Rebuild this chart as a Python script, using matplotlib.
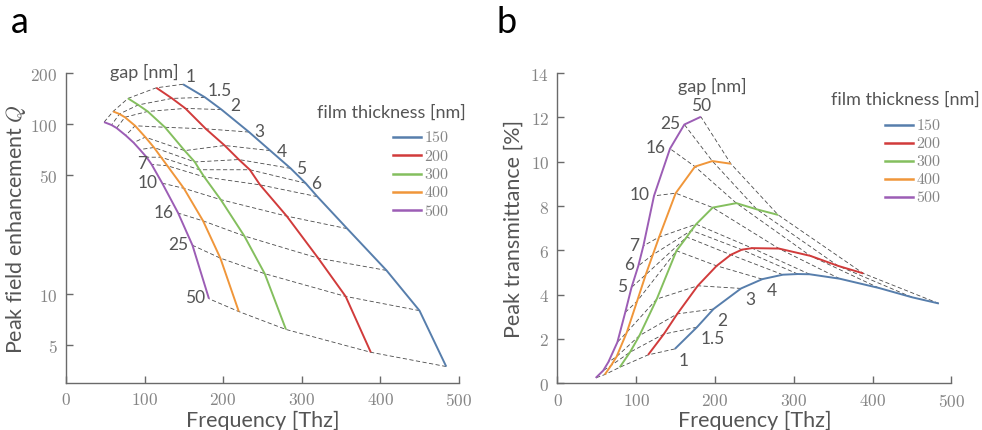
import matplotlib
matplotlib.use('Agg')
import matplotlib.pyplot as plt
from matplotlib.ticker import FuncFormatter, NullLocator
from matplotlib.lines import Line2D

# gap sizes [nm] and film thicknesses [nm]
gaps = ['1', '1.5', '2', '3', '4', '5', '6', '7', '10', '16', '25', '50']
thickness = ['150', '200', '300', '400', '500']

# peak frequency [THz] for each gap, per film thickness
freq_150 = [149, 177, 198, 233, 260, 286, 305, 320, 358, 408, 450, 484]
freq_200 = [115, 135, 152, 178, 202, 220, 234, 247, 281, 321, 356, 388]
freq_300 = [79, 92, 104, 126, 151, 164, 170, 176, 197, 227, 253, 280]
freq_400 = [60, 68, 75, 88, 101, 112, 121, 129, 150, 174.5, 196.5, 220]
freq_500 = [48.5, 58, 64.5, 76, 86, 94, 102.6, 109, 122.5, 142.8, 161, 182]

# peak field enhancement Q
q_150 = [172, 144, 122, 90, 70, 55, 45, 37.5, 24.3, 13.8, 8.0, 3.75]
q_200 = [164, 142, 124, 94, 75, 62, 54, 44, 28.8, 16.3, 9.7, 4.55]
q_300 = [142, 130, 119, 96, 70, 60, 54, 49, 36, 22, 13.2, 6.2]
q_400 = [119, 115, 110, 98, 84, 73, 64, 57, 42, 27, 16.3, 7.9]
q_500 = [103, 99, 95, 86, 78, 71, 64, 58, 45, 30, 19.4, 9.4]

# peak transmittance [%]
t_150 = [1.55, 2.53, 3.35, 4.28, 4.7, 4.9, 4.93, 4.92, 4.72, 4.3, 3.88, 3.6]
t_200 = [1.28, 2.22, 3.13, 4.4, 5.3, 5.8, 6.03, 6.1, 6.08, 5.75, 5.3, 4.96]
t_300 = [0.72, 1.4, 2.15, 3.8, 5.98, 6.6, 6.9, 7.18, 7.93, 8.13, 7.85, 7.6]
t_400 = [0.39, 0.8, 1.2, 2.3, 3.7, 4.9, 5.8, 6.6, 8.58, 9.78, 10.03, 9.91]
t_500 = [0.24, 0.57, 0.95, 1.85, 3.2, 4.33, 5.3, 6.2, 8.46, 10.59, 11.68, 12.03]

colors = ['#577eac', '#d13b3b', '#84bf5e', '#f0963a', '#9c5db5']

freqs = [freq_150, freq_200, freq_300, freq_400, freq_500]
qs = [q_150, q_200, q_300, q_400, q_500]
ts = [t_150, t_200, t_300, t_400, t_500]

plt.rcParams['font.family'] = ['Lato', 'DejaVu Sans']
plt.rcParams['mathtext.fontset'] = 'cm'

TICK_C = '#858585'
LAB_C = '#555555'
SPINE_C = '#6a6a6a'

fig = plt.figure(figsize=(9.82, 4.31), dpi=100)
axa = fig.add_axes([0.0672, 0.109, 0.400, 0.719])
axb = fig.add_axes([0.5677, 0.1085, 0.4012, 0.7195])

fmt = FuncFormatter(lambda v, pos: r'$%g$' % v)


def style(ax):
    for s in ['top', 'right']:
        ax.spines[s].set_visible(False)
    for s in ['left', 'bottom']:
        ax.spines[s].set_color(SPINE_C)
        ax.spines[s].set_linewidth(1.0)
    ax.tick_params(direction='in', length=5, width=1.0, color=SPINE_C,
                   labelcolor=TICK_C, labelsize=12.5, pad=6)
    ax.set_xlim(0, 500)
    ax.set_xticks([0, 100, 200, 300, 400, 500])
    ax.xaxis.set_major_formatter(fmt)
    ax.yaxis.set_major_formatter(fmt)
    ax.yaxis.set_minor_locator(NullLocator())
    ax.set_xlabel('Frequency [Thz]', fontsize=15.5, color=LAB_C, labelpad=1)


def draw(ax, ys):
    # dashed lines join equal gaps across film thicknesses
    for g in range(len(gaps)):
        ax.plot([f[g] for f in freqs], [y[g] for y in ys], color='#4a4a4a',
                lw=0.6, dashes=(5, 3), zorder=1)
    for f, y, c in zip(freqs, ys, colors):
        ax.plot(f, y, color=c, lw=1.4, zorder=3, solid_capstyle='butt')


def legend(ax, tx, ty, lx, ly, dy):
    ax.text(tx, ty, 'film thickness [nm]', transform=ax.transAxes, ha='right',
            va='center', fontsize=13, color=LAB_C)
    for i, (lab, c) in enumerate(zip(thickness, colors)):
        yy = ly - i * dy
        ax.add_line(Line2D([lx, lx + 0.071], [yy, yy], color=c, lw=1.8,
                           transform=ax.transAxes, clip_on=False))
        ax.text(lx + 0.08, yy, r'$%s$' % lab, transform=ax.transAxes,
                ha='left', va='center', fontsize=11.5, color=TICK_C)


lab_kw = dict(fontsize=12.5, color=LAB_C, textcoords='offset points')

# ---- panel a
axa.set_yscale('log')
style(axa)
axa.set_ylim(3, 200)
axa.set_yticks([5, 10, 50, 100, 200])
axa.yaxis.set_major_formatter(fmt)
axa.yaxis.set_minor_locator(NullLocator())
axa.set_ylabel('Peak field enhancement $Q$', fontsize=15.5, color=LAB_C)
axa.yaxis.set_label_coords(-0.097, 0.5)
draw(axa, qs)

offs_a = [(2, 6), (2, 5), (6, 3), (4, 1), (5, 0), (4, 0), (4, 0)]
for g in range(7):
    axa.annotate(gaps[g], (freq_150[g], q_150[g]), xytext=offs_a[g], ha='left',
                 va='center', **lab_kw)
for g in range(7, 12):
    axa.annotate(gaps[g], (freq_500[g], q_500[g]), xytext=(-3, 1), ha='right',
                 va='center', **lab_kw)
axa.text(100, 205, 'gap [nm]', ha='center', va='center', fontsize=13, color=LAB_C)
legend(axa, 1.018, 0.874, 0.832, 0.794, 0.059)

# ---- panel b
style(axb)
axb.set_ylim(0, 14)
axb.set_yticks([0, 2, 4, 6, 8, 10, 12, 14])
axb.set_ylabel('Peak transmittance [%]', fontsize=15.5, color=LAB_C)
axb.yaxis.set_label_coords(-0.085, 0.5)
draw(axb, ts)

for g in range(5, 11):
    axb.annotate(gaps[g], (freq_500[g], t_500[g]), xytext=(-3, 1), ha='right',
                 va='center', **lab_kw)
axb.annotate(gaps[11], (freq_500[11], t_500[11]), xytext=(0, 3), ha='center',
             va='bottom', **lab_kw)
for g in range(5):
    axb.annotate(gaps[g], (freq_150[g], t_150[g]), xytext=(3, -2), ha='left',
                 va='top', **lab_kw)
axb.text(196, 13.45, 'gap [nm]', ha='center', va='center', fontsize=13, color=LAB_C)
legend(axb, 1.072, 0.917, 0.831, 0.834, 0.058)

fig.text(0.011, 0.948, 'a', fontsize=26, color='black', va='center', ha='left')
fig.text(0.506, 0.948, 'b', fontsize=26, color='black', va='center', ha='left')

fig.savefig('out.png', dpi=100)
